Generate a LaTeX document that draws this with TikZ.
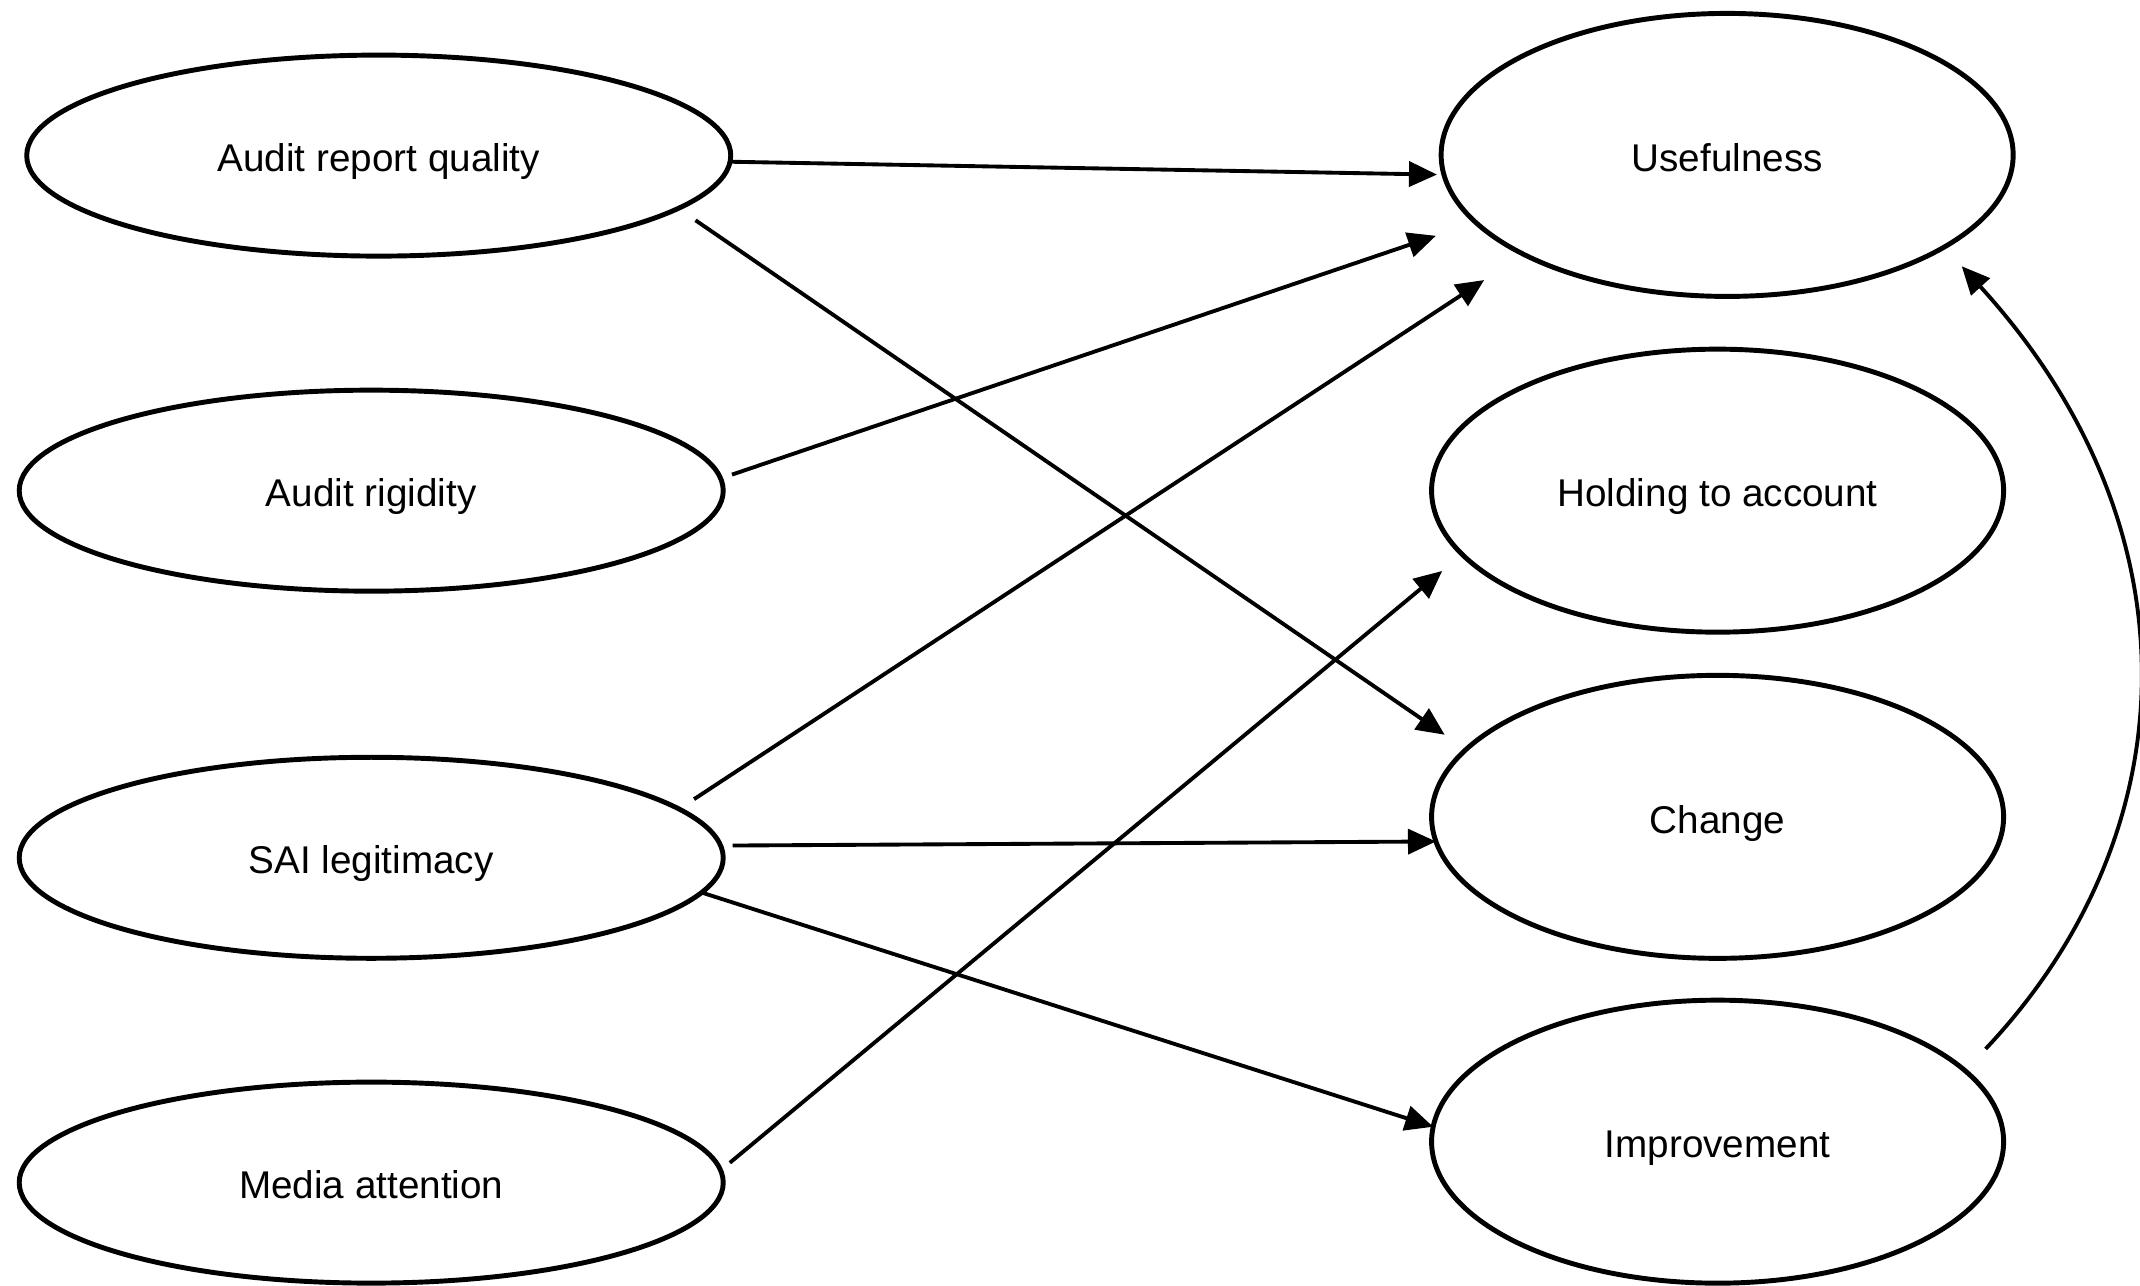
\documentclass[tikz,border=0pt]{standalone}
\usepackage{fontspec}
\setmainfont{Liberation Sans}
\usepackage{tikz}
\usetikzlibrary{arrows.meta, shapes.geometric, positioning}
\usetikzlibrary{calc}

\begin{document}
\begin{tikzpicture}[x=0.13648mm, y=-0.13648mm,
		cause/.style={ellipse, draw, line width=1.4pt, inner sep=0pt, outer sep=0pt,
			minimum width=70.4mm, minimum height=20.1mm, text height=9.2pt, text depth=0pt,
			font=\fontsize{11}{13}\selectfont},
		effect/.style={ellipse, draw, line width=1.4pt, inner sep=0pt, outer sep=0pt,
			minimum width=57.2mm, minimum height=28.3mm, text height=9.2pt, text depth=0pt,
			font=\fontsize{11}{13}\selectfont},
		>={Triangle[length=2.8mm, width=2.5mm]}]
		\useasboundingbox (0,0) rectangle (1568,942);
		\draw (277.5,114) node[cause] (arq){Audit report quality}
		(272,359.5) node[cause] (rig) {Audit rigidity}
		(272,628.5) node[cause] (sai) {SAI legitimacy}
		(272,866.5) node[cause] (med) {Media attention}
		(1265.5,113.5) node[effect] (use) {Usefulness}
		(1258.5,359.5) node[effect] (hold) {Holding to account}
		(1258.5,598.5) node[effect] (chg) {Change}
		(1258.5,836.5) node[effect] (imp) {Improvement};
		
		\draw[->, line width=1.1pt, shorten >=0.7mm] (arq.-1.3) -- (use.184.2);
		\draw[->, line width=1.1pt, shorten <=2.1mm, shorten >=2.6mm] (arq.-10.9) -- (chg.165.3);
		\draw[->, line width=1.1pt, shorten <=1.2mm, shorten >=4.2mm] (rig.2.1) -- (use.195.4);
		\draw[->, line width=1.1pt, shorten <=1.8mm, shorten >=4.7mm] (sai.9.9) -- (use.206.2);
		\draw[->, line width=1.1pt, shorten <=1.2mm] (sai.2.1) -- (chg.185.7);
		\draw[->, line width=1.1pt] (sai.-6.8) -- (imp.177.6);
		\draw[->, line width=1.1pt, shorten <=1.2mm, shorten >=2.6mm] (med.2.1) -- (hold.194.1);
		\draw[->, line width=1.1pt, shorten <=3mm, shorten >=2.6mm] (imp.16.2) .. controls +(165,-175) and +(187,205) .. (use.-23.7);
	\end{tikzpicture}
\end{document}
